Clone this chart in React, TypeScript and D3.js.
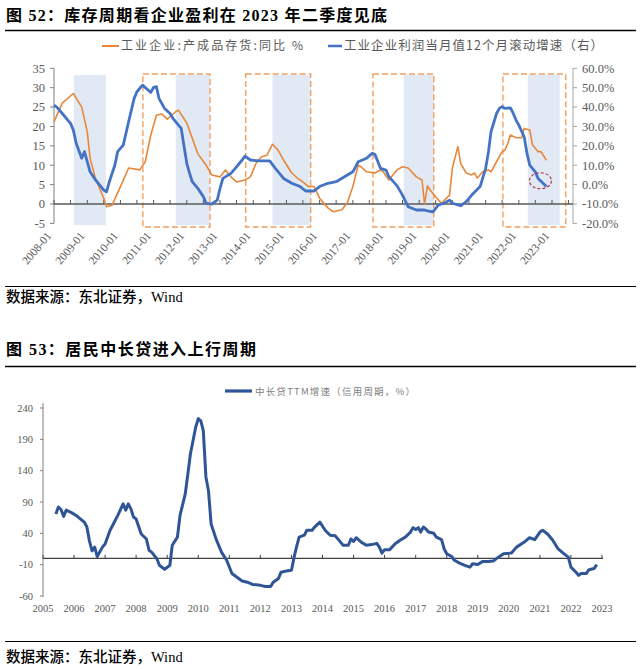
import React from "react";
import * as d3 from "d3";

// ---------- Figure 52 data ----------
const invDates = ["2008-01","2008-04","2008-08","2008-11","2009-01","2009-02","2009-04","2009-07","2009-08","2009-10","2010-01","2010-04","2010-08","2010-10","2010-12","2011-02","2011-04","2011-06","2011-09","2011-10","2012-01","2012-05","2012-08","2012-10","2013-01","2013-03","2013-05","2013-07","2013-10","2013-12","2014-02","2014-04","2014-06","2014-08","2014-10","2014-12","2015-03","2015-05","2015-07","2015-09","2015-11","2016-01","2016-04","2016-06","2016-09","2016-11","2017-01","2017-03","2017-04","2017-06","2017-09","2017-11","2017-12","2018-02","2018-05","2018-07","2018-09","2018-12","2019-02","2019-03","2019-04","2019-05","2019-07","2019-09","2019-12","2020-01","2020-03","2020-04","2020-06","2020-08","2020-09","2020-10","2020-12","2021-02","2021-03","2021-05","2021-07","2021-08","2021-09","2021-10","2021-12","2022-02","2022-03","2022-05","2022-06","2022-08","2022-09","2022-11"];
const invValues = [21.2,26,28.5,25,18.6,11.8,6.6,1.5,-0.7,-0.3,4.5,9.3,8.8,10.9,17.8,22.9,23.2,21.9,23.8,24.2,20.9,13,10,7.5,7,8.8,7,5.7,6.2,7,10.5,12.2,12.6,15.4,13.9,11.3,8,6.7,5.7,4.5,4.5,1.5,-1,-2,-1.5,0.3,4.5,10,9.6,8.3,8,8.8,8.3,6.2,8.8,9.6,9.3,7,6.2,0,4.7,3.6,1.9,0.2,2.3,9.3,14.8,10.5,8,7.5,8,6.7,8.3,8.8,8.3,10.9,13.5,13.9,15.6,17.8,17.1,17.1,19.5,19.1,15.2,13.5,13.5,11.3];

const profitDates = ["2008-01","2008-02","2008-04","2008-06","2008-07","2008-08","2008-09","2008-11","2008-12","2009-01","2009-02","2009-04","2009-06","2009-07","2009-08","2009-09","2009-11","2009-12","2010-02","2010-04","2010-06","2010-07","2010-09","2010-11","2010-12","2011-01","2011-02","2011-03","2011-05","2011-07","2011-08","2011-10","2011-11","2011-12","2012-01","2012-02","2012-03","2012-05","2012-07","2012-08","2012-10","2012-12","2013-01","2013-02","2013-05","2013-07","2013-09","2013-10","2013-12","2014-03","2014-07","2014-09","2014-12","2015-03","2015-06","2015-08","2015-11","2016-01","2016-04","2016-07","2016-10","2017-01","2017-03","2017-06","2017-08","2017-09","2017-11","2018-01","2018-02","2018-05","2018-07","2018-09","2018-12","2019-03","2019-04","2019-06","2019-08","2019-10","2019-12","2020-01","2020-04","2020-06","2020-08","2020-11","2021-01","2021-02","2021-03","2021-05","2021-06","2021-07","2021-08","2021-10","2021-11","2021-12","2022-01","2022-03","2022-04","2022-05","2022-07","2022-08","2022-11"];
const profitValues = [41,40,36.7,33.3,31.6,28.1,21.3,13.6,17,11.8,6.6,2.4,-1,-2.8,-3.7,1.5,10.1,17,20.4,32.4,44.5,47.9,51.3,48.8,47.6,50.2,50.5,44.5,39.3,36.7,34.2,30.7,29,20,11,5.8,1.5,-1.9,-6.2,-9.6,-10,-8,-1.9,3.2,5.8,9.2,12.7,14.7,12.7,12.2,12.2,8.4,3.2,0.7,-1,-3.3,-3.3,-1,0.7,1.5,4.1,6.6,11.8,13.6,16.1,15.6,8.4,7.5,4.1,-0.5,-5.4,-11.4,-13.1,-13.1,-13.5,-14,-10.5,-9.6,-8,-9.6,-10.9,-8.8,-5.4,-1,8.4,17,27.3,36.7,39.3,40.2,39.3,39.6,36.7,33.3,30.7,24.7,16.1,10.1,6.6,3.2,-1];

const shadeStarts = ["2008-08-07","2011-09-01","2014-08-01","2018-07-15","2022-04-10"];
const shadeEnds   = ["2009-07-25","2012-09-12","2015-09-25","2019-06-10","2023-03-28"];
const boxStarts = ["2010-09-05","2013-10-10","2017-08-10","2021-07-10"];
const boxEnds   = ["2012-09-12","2015-09-25","2019-06-10","2023-06-01"];
const circleDate = "2022-08-27";
const circleValue = 2;

const leftTicks = [-5,0,5,10,15,20,25,30,35];
const rightTicks = [-20,-10,0,10,20,30,40,50,60];
const yearLabels52 = ["2008-01","2009-01","2010-01","2011-01","2012-01","2013-01","2014-01","2015-01","2016-01","2017-01","2018-01","2019-01","2020-01","2021-01","2022-01","2023-01"];

// ---------- Figure 53 data ----------
const loanDates = ["2005-06","2005-07","2005-08","2005-09","2005-10","2005-12","2006-02","2006-05","2006-06","2006-07","2006-08","2006-09","2006-10","2006-12","2007-01","2007-03","2007-04","2007-06","2007-08","2007-09","2007-10","2007-11","2007-12","2008-01","2008-03","2008-05","2008-06","2008-07","2008-09","2008-10","2008-12","2009-02","2009-03","2009-05","2009-06","2009-08","2009-09","2009-10","2009-12","2010-01","2010-02","2010-03","2010-04","2010-05","2010-06","2010-08","2010-10","2010-12","2011-02","2011-04","2011-06","2011-08","2011-10","2012-01","2012-03","2012-05","2012-06","2012-08","2012-09","2012-11","2013-01","2013-02","2013-03","2013-04","2013-06","2013-07","2013-09","2013-10","2013-12","2014-02","2014-04","2014-06","2014-08","2014-09","2014-11","2014-12","2015-01","2015-02","2015-04","2015-06","2015-08","2015-10","2015-11","2015-12","2016-01","2016-03","2016-05","2016-07","2016-09","2016-11","2016-12","2017-01","2017-02","2017-03","2017-04","2017-05","2017-06","2017-08","2017-09","2017-11","2017-12","2018-01","2018-03","2018-04","2018-06","2018-08","2018-10","2018-11","2019-01","2019-03","2019-05","2019-07","2019-09","2019-11","2020-02","2020-04","2020-07","2020-09","2020-11","2021-01","2021-02","2021-04","2021-06","2021-08","2021-10","2021-12","2022-01","2022-03","2022-04","2022-05","2022-07","2022-08","2022-10","2022-11"];
const loanValues = [71,82,78,67,77,73,68,58,50,28,12,18,3,18,23,45,53,69,87,77,87,79,66,63,39,31,13,10,-0.5,-11,-17.5,-11,21,34,69,103,135,167,209,223,219,204,130,108,55,30,10,-3,-24,-30,-36,-38,-41.5,-43,-44.7,-44.7,-38,-32,-22,-20,-19,2,18,34,37,45,45,50,58,45,37,36,26,21,21,31,27,33,26,21,22,24,18,8.5,14,14,23,29,34,42,49,46,49,42,50,47,42,40,34,30,15.5,7.5,3,-3,-7.5,-11,-14,-8.5,-9.6,-4.8,-4.8,-4.3,2,7.5,8.5,18,26,33,30,42,45,39,29,15.5,8.5,2,-14,-22,-27,-24,-24,-18,-16,-10];
const loanYTicks = [-60,-10,40,90,140,190,240];
const loanYears = d3.range(2005, 2024);

const SERIF = "'Liberation Serif', 'Times New Roman', 'Noto Sans CJK SC', serif";
const MIXED = "'Liberation Serif', 'Noto Sans CJK SC', serif";
const CJK = "'Noto Sans CJK SC', sans-serif";

export default function App() {
  const pm = d3.timeParse("%Y-%m");
  const pd = d3.timeParse("%Y-%m-%d");

  // ---- scales fig 52
  const x52 = d3.scaleTime().domain([new Date(2008, 0, 1), new Date(2023, 7, 20)]).range([54, 573]);
  const yL = d3.scaleLinear().domain([-5, 35]).range([223.4, 68.3]);
  const yR = d3.scaleLinear().domain([-20, 60]).range([223.4, 68.3]);
  const inv = invDates.map((d, i) => ({ d: pm(d)!, v: invValues[i] }));
  const prof = profitDates.map((d, i) => ({ d: pm(d)!, v: profitValues[i] }));
  const lineL = d3.line<{ d: Date; v: number }>().x(p => x52(p.d)).y(p => yL(p.v));
  const lineR = d3.line<{ d: Date; v: number }>().x(p => x52(p.d)).y(p => yR(p.v));
  const halfYearTicks = d3.timeMonth.every(6)!.range(new Date(2008, 0, 1), new Date(2023, 7, 2));
  const y0 = yL(0);

  // ---- scales fig 53
  const x53 = d3.scaleTime().domain([new Date(2005, 0, 1), new Date(2023, 0, 1)]).range([43, 602]);
  const y53 = d3.scaleLinear().domain([-60, 240]).range([596, 408]);
  const loan = loanDates.map((d, i) => ({ d: pm(d)!, v: loanValues[i] }));
  const line53 = d3.line<{ d: Date; v: number }>().x(p => x53(p.d)).y(p => y53(p.v));

  const grey = "#595959";
  const orange = "#E8873A";
  const blue = "#4472C4";

  return (
    <svg width={640} height={669} style={{ position: "absolute", left: 0, top: 0, background: "#fff" }}>
      {/* ================= Figure 52 ================= */}
      <text x={6} y={21} fontFamily={MIXED} fontWeight={700} fontSize={16} textLength={381} lengthAdjust="spacing" fill="#000">图 52：库存周期看企业盈利在 2023 年二季度见底</text>
      <line x1={5} x2={636} y1={30.5} y2={30.5} stroke="#000" strokeWidth={1.6} />

      {/* legend */}
      <line x1={102} x2={119} y1={46} y2={46} stroke={orange} strokeWidth={2} />
      <text x={121} y={50} fontFamily={CJK} fontSize={12} fill={grey} textLength={182} lengthAdjust="spacing">工业企业:产成品存货:同比 %</text>
      <line x1={328} x2={342} y1={46} y2={46} stroke={blue} strokeWidth={2.5} />
      <text x={344} y={50} fontFamily={CJK} fontSize={12.5} fill={grey} textLength={259} lengthAdjust="spacing">工业企业利润当月值12个月滚动增速（右）</text>

      {/* shaded bands */}
      {shadeStarts.map((s, i) => (
        <rect key={"s" + i} x={x52(pd(s)!)} y={75} width={x52(pd(shadeEnds[i])!) - x52(pd(s)!)} height={150} fill="#DCE6F2" opacity={0.85} />
      ))}
      {/* dashed boxes */}
      {boxStarts.map((s, i) => (
        <rect key={"b" + i} x={x52(pd(s)!)} y={74} width={x52(pd(boxEnds[i])!) - x52(pd(s)!)} height={153} fill="none" stroke="#F0A060" strokeWidth={1.4} strokeDasharray="6,3" />
      ))}

      {/* left axis */}
      <line x1={54} x2={54} y1={yL(35)} y2={yL(-5)} stroke="#7F7F7F" strokeWidth={1} />
      {leftTicks.map(t => (
        <g key={"lt" + t}>
          <line x1={50} x2={54} y1={yL(t)} y2={yL(t)} stroke="#7F7F7F" strokeWidth={1} />
          <text x={45} y={yL(t)} dy="0.35em" textAnchor="end" fontFamily={SERIF} fontSize={12.5} fill={grey}>{t}</text>
        </g>
      ))}
      {/* right axis */}
      <line x1={573} x2={573} y1={yR(60)} y2={yR(-20)} stroke="#A6A6A6" strokeWidth={1} />
      {rightTicks.map(t => (
        <g key={"rt" + t}>
          <line x1={573} x2={577} y1={yR(t)} y2={yR(t)} stroke="#A6A6A6" strokeWidth={1} />
          <text x={582} y={yR(t)} dy="0.35em" textAnchor="start" fontFamily={SERIF} fontSize={12.5} fill={grey}>{t.toFixed(1) + "%"}</text>
        </g>
      ))}
      {/* x axis at 0 */}
      <line x1={54} x2={573} y1={y0} y2={y0} stroke="#595959" strokeWidth={1.3} />
      {halfYearTicks.map((d, i) => (
        <line key={"xt" + i} x1={x52(d)} x2={x52(d)} y1={y0 - 4} y2={y0} stroke="#595959" strokeWidth={1} />
      ))}
      {yearLabels52.map(l => {
        const xx = x52(pm(l)!);
        return (
          <text key={l} transform={`translate(${xx - 2},${236}) rotate(-50)`} textAnchor="end" fontFamily={SERIF} fontSize={11.5} fill={grey}>{l}</text>
        );
      })}

      {/* series */}
      <path d={lineL(inv)!} fill="none" stroke={orange} strokeWidth={1.6} strokeLinejoin="round" />
      <path d={lineR(prof)!} fill="none" stroke={blue} strokeWidth={2.8} strokeLinejoin="round" />
      <ellipse cx={x52(pd(circleDate)!)} cy={yR(circleValue)} rx={11} ry={8} fill="none" stroke="#B03A48" strokeWidth={1.2} strokeDasharray="3,2" />

      <line x1={5} x2={636} y1={286.5} y2={286.5} stroke="#000" strokeWidth={1.2} />
      <text x={6} y={302} fontFamily={MIXED} fontSize={14.5} fontWeight={500} fill="#000">数据来源：东北证券，Wind</text>

      {/* ================= Figure 53 ================= */}
      <text x={6} y={355} fontFamily={MIXED} fontWeight={700} fontSize={16} textLength={250} lengthAdjust="spacing" fill="#000">图 53：居民中长贷进入上行周期</text>
      <line x1={5} x2={636} y1={366.5} y2={366.5} stroke="#000" strokeWidth={1.6} />

      <line x1={225} x2={252} y1={391} y2={391} stroke="#2F5597" strokeWidth={3.2} />
      <text x={255} y={394.5} fontFamily={CJK} fontSize={9.5} fill="#7F7F7F" textLength={160} lengthAdjust="spacing">中长贷TTM增速（信用周期，%）</text>

      <line x1={43} x2={43} y1={403} y2={597} stroke="#7F7F7F" strokeWidth={1} />
      {loanYTicks.map(t => (
        <g key={"by" + t}>
          <line x1={40} x2={43} y1={y53(t)} y2={y53(t)} stroke="#7F7F7F" strokeWidth={1} />
          <text x={33} y={y53(t)} dy="0.35em" textAnchor="end" fontFamily={SERIF} fontSize={10.5} fill={grey}>{t}</text>
        </g>
      ))}
      <line x1={43} x2={603} y1={y53(0)} y2={y53(0)} stroke="#404040" strokeWidth={1.1} />
      {loanYears.map(yr => (
        <g key={"bx" + yr}>
          <line x1={x53(new Date(yr, 0, 1))} x2={x53(new Date(yr, 0, 1))} y1={y53(0) - 3.5} y2={y53(0)} stroke="#404040" strokeWidth={1} />
          <text x={x53(new Date(yr, 0, 1))} y={612} textAnchor="middle" fontFamily={SERIF} fontSize={10.5} fill={grey}>{yr}</text>
        </g>
      ))}
      <path d={line53(loan)!} fill="none" stroke="#2F5597" strokeWidth={3} strokeLinejoin="round" />

      <line x1={5} x2={636} y1={641.5} y2={641.5} stroke="#000" strokeWidth={1.2} />
      <text x={6} y={662} fontFamily={MIXED} fontSize={14.5} fontWeight={500} fill="#000">数据来源：东北证券，Wind</text>
    </svg>
  );
}
